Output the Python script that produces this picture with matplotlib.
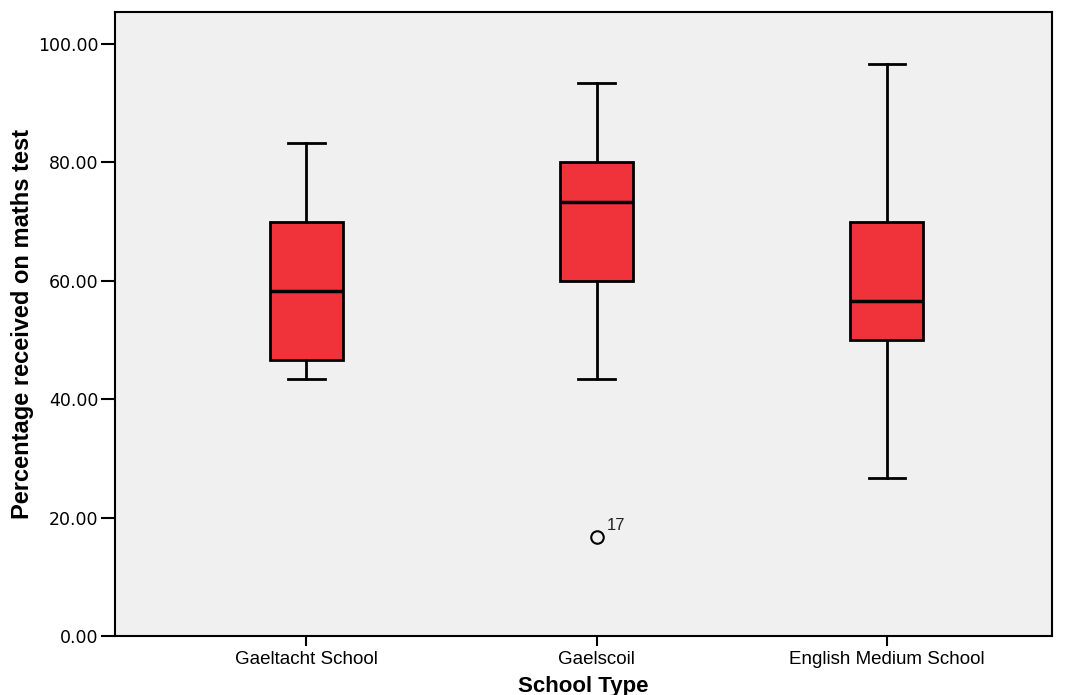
import numpy as np
import matplotlib.pyplot as plt

# valores
school_types = ['Gaeltacht School', 'Gaelscoil', 'English Medium School']
whisker_low = [43.33, 43.33, 26.67]
q1 = [46.67, 60.00, 50.00]
median = [58.33, 73.33, 56.67]
q3 = [70.00, 80.00, 70.00]
whisker_high = [83.33, 93.33, 96.67]
outliers = [[], [16.67], []]
outlier_ids = [[], ['17'], []]
y_ticks = [0, 20, 40, 60, 80, 100]

stats = []
for i in range(len(school_types)):
    stats.append({'whislo': whisker_low[i], 'q1': q1[i], 'med': median[i],
                  'q3': q3[i], 'whishi': whisker_high[i], 'fliers': outliers[i],
                  'label': school_types[i]})

fig = plt.figure(figsize=(10.67, 6.95), dpi=100)
ax = fig.add_axes([0.1078, 0.0849, 0.8782, 0.8978])
ax.set_facecolor('#f0f0f0')

pos = np.arange(len(school_types))
ax.bxp(stats, positions=pos, widths=0.25, patch_artist=True,
       boxprops=dict(facecolor='#f0323a', edgecolor='black', linewidth=2),
       medianprops=dict(color='black', linewidth=2.5),
       whiskerprops=dict(color='black', linewidth=2),
       capprops=dict(color='black', linewidth=2),
       capwidths=0.125,
       flierprops=dict(marker='o', markerfacecolor='none', markeredgecolor='black',
                       markersize=9, markeredgewidth=1.5))

for i in range(len(school_types)):
    for val, lab in zip(outliers[i], outlier_ids[i]):
        ax.annotate(lab, (pos[i], val), xytext=(7, 5), textcoords='offset points',
                    fontsize=12, family='Liberation Sans', color='#222222')

ax.set_xlim(-0.66, 2.57)
ax.set_ylim(0, 105.4)
ax.set_yticks(y_ticks)
ax.set_yticklabels(['%.2f' % v for v in y_ticks], family='DejaVu Sans', fontsize=12.5)
ax.set_xticks(pos)
ax.set_xticklabels(school_types, family='Liberation Sans', fontsize=13.5)
ax.tick_params(axis='y', direction='out', length=10, width=1.5, color='black', pad=2)
ax.tick_params(axis='x', direction='out', length=7, width=1.5, color='black', pad=4)
for s in ax.spines.values():
    s.set_linewidth(1.5)

ax.set_xlabel('School Type', family='Liberation Sans', fontweight='bold', fontsize=16)
ax.xaxis.set_label_coords(0.5, -0.064)
ax.set_ylabel('Percentage received on maths test', family='Liberation Sans',
              fontweight='bold', fontsize=17, labelpad=3)

fig.savefig('out.png', dpi=100)
